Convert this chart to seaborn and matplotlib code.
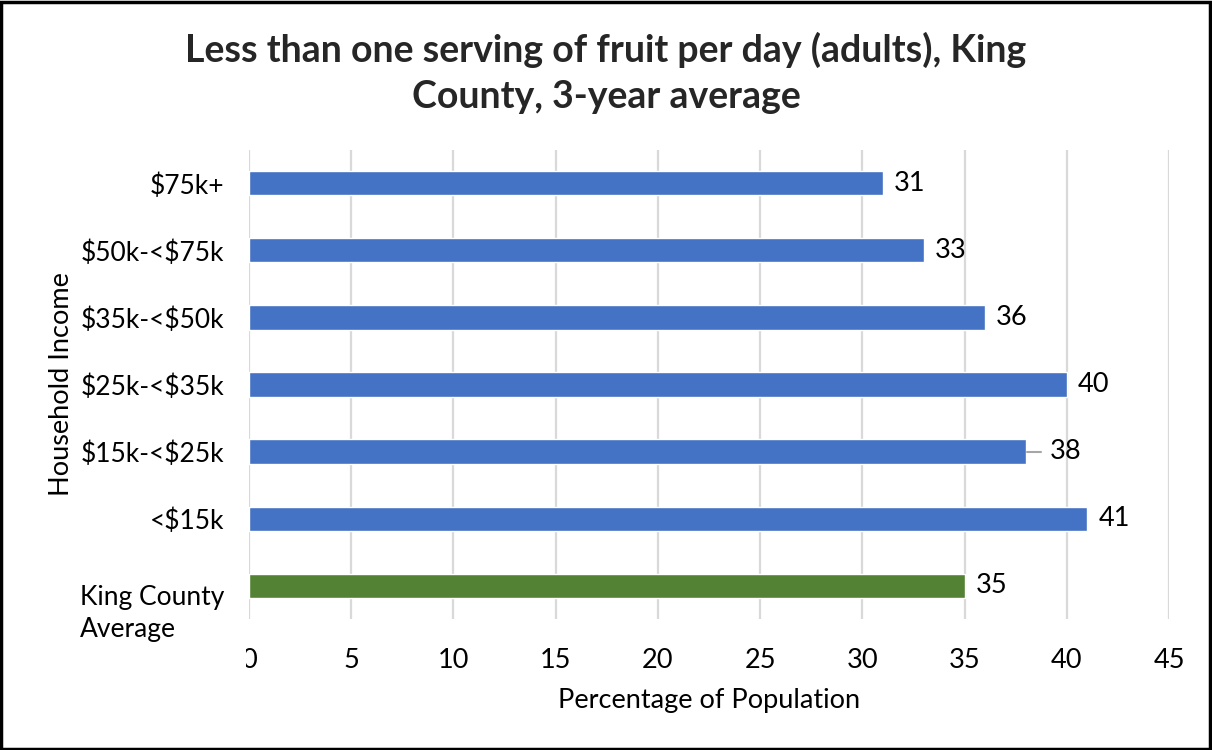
import matplotlib
matplotlib.use("Agg")
import matplotlib.pyplot as plt
import seaborn as sns
import pandas as pd
from matplotlib.patches import Rectangle
from matplotlib.transforms import Bbox, TransformedBbox, ScaledTranslation

# Data
categories = ["$75k+", "$50k-<$75k", "$35k-<$50k", "$25k-<$35k",
              "$15k-<$25k", "<$15k", "King County\nAverage"]
values = [31, 33, 36, 40, 38, 41, 35]
groups = ["income"] * 6 + ["county"]
x_ticks = [0, 5, 10, 15, 20, 25, 30, 35, 40, 45]

BLUE = "#4472C4"
GREEN = "#548235"
GRID = "#D9D9D9"
FS = 19.5

sns.set_theme(style="white")
plt.rcParams["font.family"] = ["Lato", "DejaVu Sans"]
plt.rcParams["text.parse_math"] = False

df = pd.DataFrame({"category": categories, "value": values, "group": groups})

fig = plt.figure(figsize=(12.12, 7.5), dpi=100)
ax = fig.add_axes([249 / 1212, 1 - 619 / 750, 920 / 1212, 469 / 750])

sns.barplot(data=df, x="value", y="category", hue="group",
            palette={"income": BLUE, "county": GREEN},
            order=categories, width=0.36, dodge=False, legend=False,
            saturation=1, ax=ax, zorder=3)

ax.set_xlim(0, 45)
ax.set_xticks(x_ticks)
ax.set_xticklabels([str(t) for t in x_ticks])
ax.xaxis.grid(True, color=GRID, linewidth=1.6, zorder=0)
ax.set_axisbelow(True)
for s in ax.spines.values():
    s.set_visible(False)
ax.tick_params(axis="x", length=0, pad=21, labelsize=FS, colors="black")
ax.tick_params(axis="y", length=0, pad=18, labelsize=19, colors="black")

for lbl in ax.get_yticklabels():
    if "\n" in lbl.get_text():
        lbl.set_multialignment("left")
        lbl.set_linespacing(1.35)
        lbl.set_transform(lbl.get_transform()
                          + ScaledTranslation(0, -22 / 100, fig.dpi_scale_trans))

# The wrapped category label's box hides the left part of the "0" tick
zero = ax.get_xticklabels()[0]
zero.set_clip_box(TransformedBbox(Bbox([[246 / 1212, 0], [1, 1]]), fig.transFigure))
zero.set_clip_on(True)

ax.set_xlabel("Percentage of Population", fontsize=FS, labelpad=11, color="black")
ax.set_ylabel("Household Income", fontsize=FS, labelpad=4, color="black")

# Value labels
for i, v in enumerate(values):
    if v == 38:
        ax.plot([v + 0.05, v + 0.75], [i, i], color="#A6A6A6", lw=1.5,
                zorder=4, clip_on=False)
        ax.text(v + 1.15, i, f"{v}", va="center", ha="left", fontsize=FS,
                color="black")
    else:
        ax.text(v + 0.55, i, f"{v}", va="center", ha="left", fontsize=FS,
                color="black")

fig.text(0.5, 1 - 50 / 750, "Less than one serving of fruit per day (adults), King",
         ha="center", va="center", fontsize=27, fontweight="bold")
fig.text(0.5, 1 - 97 / 750, "County, 3-year average",
         ha="center", va="center", fontsize=27, fontweight="bold")

# Figure border
fig.patches.append(Rectangle((0.001, 0.002), 0.997, 0.996, transform=fig.transFigure,
                             fill=False, edgecolor="black", linewidth=2.5))

fig.savefig("out.png", dpi=100)
